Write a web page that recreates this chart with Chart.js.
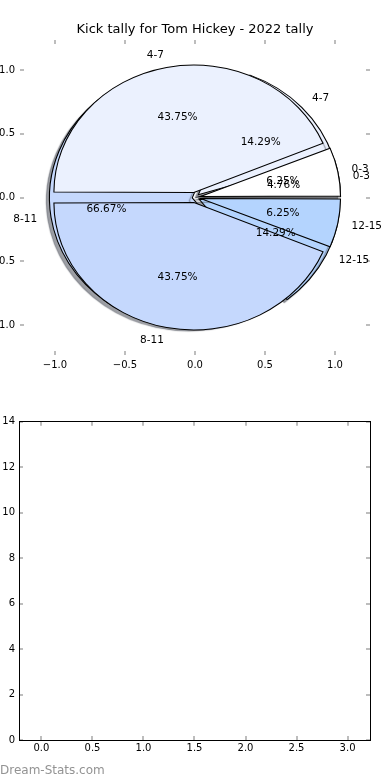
<!DOCTYPE html>
<html>
<head>
<meta charset="utf-8">
<script src="https://cdn.jsdelivr.net/npm/chart.js@4.4.1/dist/chart.umd.min.js"></script>
<style>
  html, body { margin: 0; padding: 0; background: #fff; }
  #page { position: relative; width: 390px; height: 780px; overflow: hidden; background: #fff; }
  canvas { position: absolute; }
  #pieB, #pieA, #pieAxes { left: -40px; top: 0; }
  #emptyAxes { left: -40px; top: 390px; }
  #credit { position: absolute; left: 0; top: 763px; font: 12px 'DejaVu Sans', sans-serif; color: #939393; }
</style>
</head>
<body>
<div id="page">
  <canvas id="pieB" width="470" height="390"></canvas>
  <canvas id="pieA" width="470" height="390"></canvas>
  <canvas id="pieAxes" width="470" height="390"></canvas>
  <canvas id="emptyAxes" width="469" height="390"></canvas>
  <div id="credit">Dream-Stats.com</div>
</div>
<script>
// kick distance bands and the two tallies drawn on top of each other
const categories = ['0-3', '4-7', '8-11', '12-15'];
const tallyA = [1, 7, 7, 1];    // 6.25 / 43.75 / 43.75 / 6.25 %
const tallyB = [1, 3, 14, 3];   // 4.76 / 14.29 / 66.67 / 14.29 %
const sliceColors = ['#ffffff', '#ebf1fe', '#c5d8fd', '#b4d4fe'];

const pieTicks = [-1, -0.5, 0, 0.5, 1];
const emptyXTicks = [0, 0.5, 1, 1.5, 2, 2.5, 3];
const emptyYTicks = [0, 2, 4, 6, 8, 10, 12, 14];

const EXPLODE = 0.04, LABEL_DIST = 1.1, PCT_DIST = 0.6;
const tickFont = {family: "'DejaVu Sans', sans-serif", size: 10};
const tickGray = '#bdbdbd';

Chart.defaults.font.family = "'DejaVu Sans', sans-serif";
Chart.defaults.color = '#000';

let stretchX = 1;
let pies = [];

function minusFmt(v) {
    return (v < 0 ? '\u2212' : '') + Math.abs(v).toFixed(1);
}

function axisOpts(position, min, max, values, size, showLabels, fmt, padding, border) {
    return {
        type: 'linear',
        position: position,
        min: min,
        max: max,
        afterBuildTicks: function(scale) {
            scale.ticks = values.map(function(v) { return {value: v}; });
        },
        afterFit: function(scale) {
            if (scale.isHorizontal()) scale.height = size;
            else scale.width = size;
        },
        border: border ? {display: true, color: '#000', width: 1} : {display: false},
        grid: {drawOnChartArea: false, drawTicks: true, tickLength: -4, color: tickGray, lineWidth: 2},
        ticks: {display: showLabels, font: tickFont, color: '#000', padding: padding, callback: fmt}
    };
}

// squash the round Chart.js pie into the matplotlib ellipse, counter-clockwise from east
const ellipse = {
    id: 'ellipse',
    beforeDatasetsDraw(chart, args, opts) {
        const ctx = chart.ctx;
        const a = chart.chartArea;
        const cx = (a.left + a.right) / 2, cy = (a.top + a.bottom) / 2;
        ctx.save();
        if (opts.shadow) {
            ctx.shadowColor = 'rgba(60,64,76,0.5)';
            ctx.shadowOffsetX = -3;
            ctx.shadowOffsetY = 3;
            ctx.shadowBlur = 1;
        }
        ctx.translate(cx, cy);
        ctx.scale(opts.sx, -1);
        ctx.translate(-cx, -cy);
    },
    afterDatasetsDraw(chart) {
        chart.ctx.restore();
    }
};

// texts of both pies go on the top canvas so none get covered
const pieLabels = {
    id: 'pieLabels',
    afterDraw(chart) {
        const ctx = chart.ctx;
        ctx.save();
        ctx.font = "10.5px 'DejaVu Sans', sans-serif";
        ctx.fillStyle = '#000';
        ctx.textBaseline = 'middle';
        pies.forEach(function(p) {
            const values = p.data.datasets[0].data;
            const total = values.reduce(function(s, v) { return s + v; }, 0);
            p.getDatasetMeta(0).data.forEach(function(arc, i) {
                const mid = (arc.startAngle + arc.endAngle) / 2;
                const dx = Math.cos(mid) * ry * stretchX;
                const dy = -Math.sin(mid) * ry;
                let k = EXPLODE + LABEL_DIST;
                ctx.textAlign = dx > 0 ? 'left' : 'right';
                ctx.fillText(categories[i], arc.x + dx * k, arc.y + dy * k);
                k = EXPLODE + PCT_DIST;
                ctx.textAlign = 'center';
                ctx.fillText((values[i] / total * 100).toFixed(2) + '%', arc.x + dx * k, arc.y + dy * k);
            });
        });
        ctx.restore();
    }
};

const axesTop = new Chart(document.getElementById('pieAxes'), {
    type: 'scatter',
    data: {datasets: [{data: []}]},
    options: {
        responsive: false,
        animation: false,
        events: [],
        scales: {
            x: axisOpts('bottom', -1.25, 1.25, pieTicks, 35, true, minusFmt, 8, false),
            x2: axisOpts('top', -1.25, 1.25, pieTicks, 2.4, false, minusFmt, 0, false),
            y: axisOpts('left', -1.235, 1.235, pieTicks, 60, true, minusFmt, 9, false),
            y2: axisOpts('right', -1.235, 1.235, pieTicks, 60, false, minusFmt, 0, false)
        },
        plugins: {
            legend: {display: false},
            tooltip: {enabled: false},
            title: {
                display: true,
                text: 'Kick tally for Tom Hickey - 2022 tally',
                color: '#000',
                font: {size: 13, weight: 'normal'},
                padding: {top: 22, bottom: 0}
            }
        }
    },
    plugins: [pieLabels]
});

const area = axesTop.chartArea;
const sx = axesTop.scales.x, sy = axesTop.scales.y;
const rx = sx.getPixelForValue(1) - sx.getPixelForValue(0);
const ry = sy.getPixelForValue(0) - sy.getPixelForValue(1);
stretchX = rx / ry;
const piePadding = {
    left: area.left,
    right: axesTop.width - area.right,
    top: area.top,
    bottom: axesTop.height - area.bottom
};

// Chart.js moves an arc by offset/4 and also grows it by offset/4*(1-sin(angle)).
// exact: move every slice by the full explode and shrink the pie by the growth
// (all slices of tallyA grow alike); otherwise keep each slice's outer edge right.
function makePie(id, values, withShadow, exact) {
    const total = values.reduce(function(s, v) { return s + v; }, 0);
    const shift = EXPLODE * ry;
    const fix = values.map(function(v) {
        return 1 - Math.sin(Math.min(Math.PI, v / total * 2 * Math.PI));
    });
    const growth = exact ? shift * fix.reduce(function(s, f) { return s + f; }, 0) / fix.length : 0;
    return new Chart(document.getElementById(id), {
        type: 'pie',
        data: {
            labels: categories,
            datasets: [{
                data: values,
                backgroundColor: sliceColors,
                borderColor: '#000',
                borderWidth: 1,
                borderJoinStyle: 'miter',
                radius: ry - growth,
                rotation: 90,
                clip: false,
                offset: function(c) {
                    return exact ? shift * 4 : shift * 4 / (1 + fix[c.dataIndex]);
                }
            }]
        },
        options: {
            responsive: false,
            animation: false,
            events: [],
            rotation: 90,
            layout: {padding: piePadding},
            plugins: {
                legend: {display: false},
                tooltip: {enabled: false},
                ellipse: {sx: stretchX, shadow: withShadow}
            }
        },
        plugins: [ellipse]
    });
}

const pieB = makePie('pieB', tallyB, true, false);
const pieA = makePie('pieA', tallyA, false, true);
pies = [pieB, pieA];
axesTop.draw();

new Chart(document.getElementById('emptyAxes'), {
    type: 'scatter',
    data: {datasets: [{data: []}]},
    options: {
        responsive: false,
        animation: false,
        events: [],
        scales: {
            x: axisOpts('bottom', -0.22, 3.22, emptyXTicks, 40, true, function(v) { return v.toFixed(1); }, 6, true),
            x2: axisOpts('top', -0.22, 3.22, emptyXTicks, 31.7, false, function(v) { return v.toFixed(1); }, 0, true),
            y: axisOpts('left', 0, 14, emptyYTicks, 59, true, function(v) { return String(v); }, 8, true),
            y2: axisOpts('right', 0, 14, emptyYTicks, 59, false, function(v) { return String(v); }, 0, true)
        },
        plugins: {legend: {display: false}, tooltip: {enabled: false}}
    }
});
</script>
</body>
</html>
